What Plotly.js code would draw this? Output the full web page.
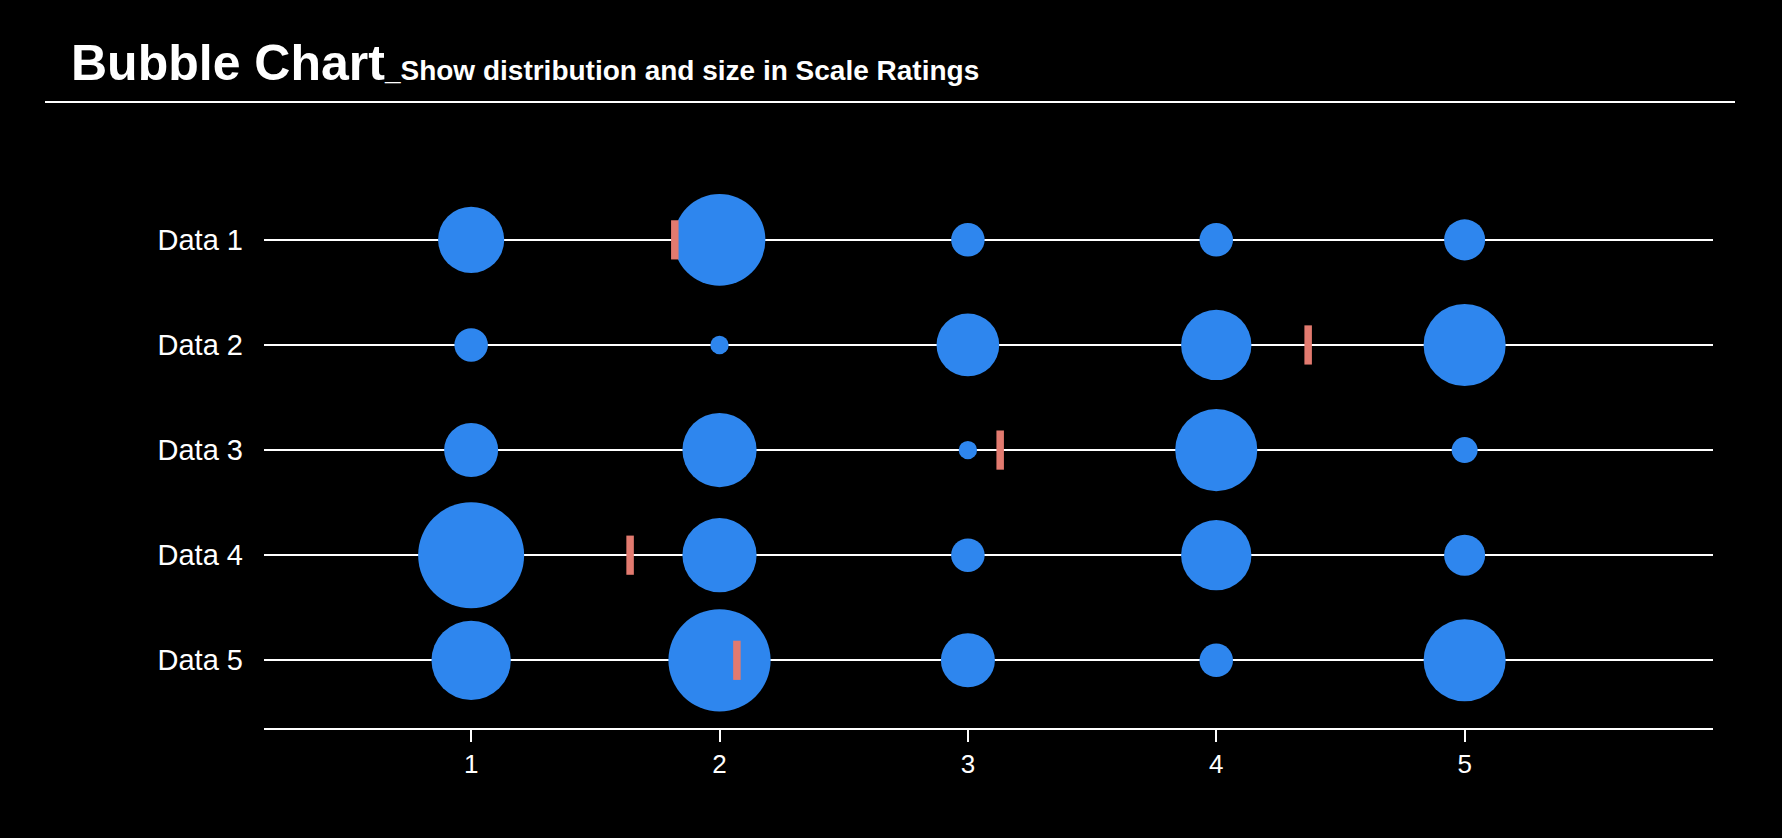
<!DOCTYPE html>
<html>
<head>
<meta charset="utf-8">
<script src="https://cdn.plot.ly/plotly-3.0.1.min.js"></script>
<style>
html,body{margin:0;padding:0;background:#000;}
#chart{width:1782px;height:838px;}
</style>
</head>
<body>
<div id="chart"></div>
<script>
// ---- data ----
const categories = ['Data 1', 'Data 2', 'Data 3', 'Data 4', 'Data 5'];
const ratings = [1, 2, 3, 4, 5];
const tickLabels = ['1', '2', '3', '4', '5'];
// response counts per rating (bubble area)
const data1 = [39, 75, 10, 10, 15];
const data2 = [10, 3, 35, 44, 60];
const data3 = [26, 49, 3, 60, 6];
const data4 = [100, 49, 10, 44, 15];
const data5 = [56, 93, 26, 10, 60];
const seriesValues = [data1, data2, data3, data4, data5];
// mean rating per row
const means = [1.82, 4.37, 3.13, 1.64, 2.07];

// ---- layout constants ----
const W = 1782, H = 838;
const M = {l: 264, r: 69, t: 130, b: 110};
const plotW = W - M.l - M.r, plotH = H - M.t - M.b;
const BLUE = '#2E86EE', RED = '#E27A6F';
const maxBubble = 106;
const maxVal = Math.max(...seriesValues.flat());
const sizeref = 2 * maxVal / (maxBubble * maxBubble);

const bx = [], by = [], bs = [];
categories.forEach((c, i) => {
  ratings.forEach((r, j) => {
    bx.push(r); by.push(c); bs.push(seriesValues[i][j]);
  });
});

const traces = [
  {
    type: 'scatter', mode: 'markers', x: bx, y: by,
    marker: {size: bs, sizemode: 'area', sizeref: sizeref, color: BLUE, opacity: 1, line: {width: 0}},
    hoverinfo: 'x+y', showlegend: false
  },
  {
    type: 'scatter', mode: 'markers', x: means, y: categories,
    marker: {symbol: 'line-ns', size: 28, color: RED, opacity: 1, line: {color: RED, width: 7.5}},
    hoverinfo: 'x+y', showlegend: false
  }
];

const px = v => (v - M.l) / plotW;          // pixel x -> paper
const py = v => (H - M.b - v) / plotH;      // pixel y -> paper

const layout = {
  width: W, height: H,
  paper_bgcolor: '#000', plot_bgcolor: '#000',
  margin: M,
  showlegend: false,
  font: {family: '"Liberation Sans", Arial, sans-serif', color: '#fff'},
  title: {
    text: 'Bubble Chart<span style="font-size:28px">_Show distribution and size in Scale Ratings</span>',
    font: {family: '"Liberation Sans", Arial, sans-serif', size: 50, color: '#fff', weight: 'bold'},
    xref: 'container', yref: 'container', x: 71 / W, xanchor: 'left',
    y: 1 - 62 / H, yanchor: 'middle', pad: {t: 0, b: 0, l: 0, r: 0}
  },
  xaxis: {
    range: [0.166, 6.0], tickvals: ratings, ticktext: tickLabels,
    showgrid: false, zeroline: false,
    showline: true, linecolor: '#fff', linewidth: 2,
    ticks: 'outside', ticklen: 12, tickwidth: 2, tickcolor: '#fff',
    tickfont: {size: 26, color: '#fff'}, fixedrange: true
  },
  yaxis: {
    type: 'category', categoryorder: 'array', categoryarray: categories,
    range: [4.644, -1.045],
    showgrid: true, gridcolor: '#fff', gridwidth: 2,
    zeroline: false, showline: false, ticks: '',
    ticklabelstandoff: 20,
    tickfont: {size: 29, color: '#fff'}, fixedrange: true
  },
  shapes: [{
    type: 'line', xref: 'paper', yref: 'paper',
    x0: px(45), x1: px(1735), y0: py(102), y1: py(102),
    line: {color: '#fff', width: 2}
  }]
};

Plotly.newPlot('chart', traces, layout, {displayModeBar: false, staticPlot: true});
</script>
</body>
</html>
